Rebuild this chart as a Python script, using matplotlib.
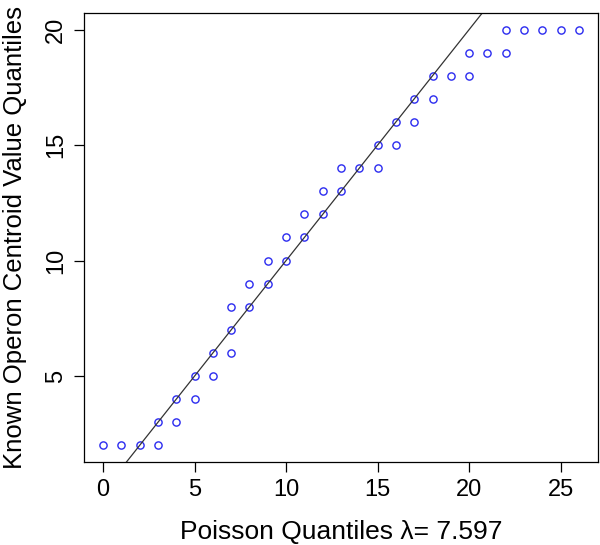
import numpy as np
import matplotlib
matplotlib.use("Agg")
import matplotlib.pyplot as plt

plt.rcParams['font.family'] = ['Liberation Sans', 'DejaVu Sans']

# poisson quantiles (x) vs known operon centroid value quantiles (y)
poisson_q = [0, 1, 2, 3, 3, 4, 4, 5, 5, 6, 6, 7, 7, 7, 8, 8, 9, 9, 10, 10,
             11, 11, 12, 12, 13, 13, 14, 15, 15, 16, 16, 17, 17, 18, 18, 19,
             20, 20, 21, 22, 22, 23, 24, 25, 26]
centroid_q = [2, 2, 2, 2, 3, 3, 4, 4, 5, 5, 6, 6, 7, 8, 8, 9, 9, 10, 10, 11,
              11, 12, 12, 13, 13, 14, 14, 14, 15, 15, 16, 16, 17, 17, 18, 18,
              18, 19, 19, 19, 20, 20, 20, 20, 20]
xticks = [0, 5, 10, 15, 20, 25]
yticks = [5, 10, 15, 20]

fig = plt.figure(figsize=(6, 5.45), dpi=100)
ax = fig.add_axes([0.14, 0.1523, 0.8567, 0.824])

ax.plot(poisson_q, centroid_q, 'o', mfc='none', mec='#2b2bf0', ms=5.2, mew=1.0)
ax.axline((0, 0), slope=1, color='#333333', lw=0.9)

ax.set_xlim(-1.04, 27.04)
ax.set_ylim(1.28, 20.72)
ax.set_xticks(xticks)
ax.set_yticks(yticks)
ax.tick_params(labelsize=17, length=7, width=0.9, pad=5)
for lab in ax.get_yticklabels():
    lab.set_rotation(90)
    lab.set_va('center')
for s in ax.spines.values():
    s.set_linewidth(0.9)

ax.set_xlabel("Poisson Quantiles λ= 7.597", fontsize=19, labelpad=14)
ax.set_ylabel("Known Operon Centroid Value Quantiles", fontsize=18.5, labelpad=13)

fig.savefig("out.png", dpi=100)
